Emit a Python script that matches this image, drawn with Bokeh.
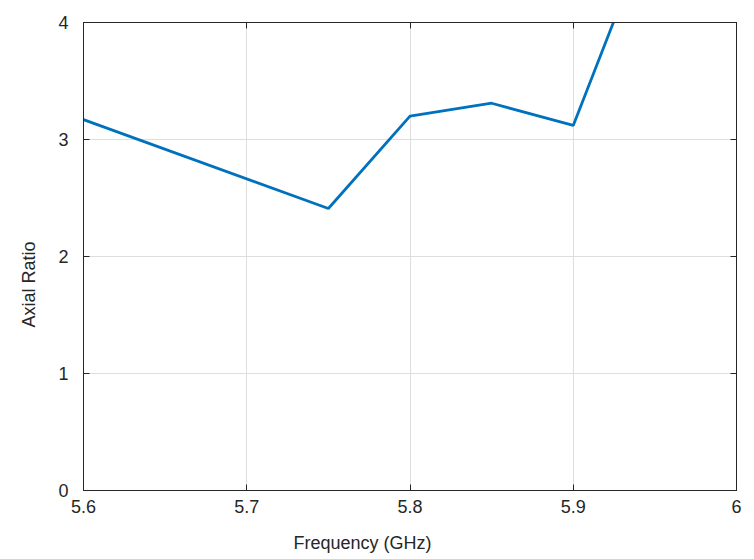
from bokeh.plotting import figure
from bokeh.models import FixedTicker, LinearAxis, Range1d, Title
from bokeh.embed import file_html
from bokeh.resources import INLINE

# Data
freq_ghz = [5.6, 5.75, 5.8, 5.85, 5.9, 5.95]
axial_ratio = [3.17, 2.41, 3.20, 3.31, 3.12, 4.91]
x_ticks = [5.6, 5.7, 5.8, 5.9, 6.0]
x_tick_labels = ["5.6", "5.7", "5.8", "5.9", "6"]
y_ticks = [0, 1, 2, 3, 4]
x_label = "Frequency (GHz)"
y_label = "Axial Ratio"

FONT = "Liberation Sans"
TXT = "#262626"

p = figure(frame_width=653, frame_height=468,
           x_range=Range1d(5.6, 6.0), y_range=Range1d(0, 4),
           output_backend="svg", toolbar_location=None,
           min_border_left=83, min_border_top=22, min_border_right=16, min_border_bottom=67,
           background_fill_color="white", border_fill_color="white")
p.outline_line_color = TXT
p.outline_line_width = 1

p.line(freq_ghz, axial_ratio, line_color="#0072BD", line_width=2.8)

for ax in p.xaxis:
    ax.ticker = FixedTicker(ticks=x_ticks)
    ax.major_label_overrides = {v: s for v, s in zip(x_ticks, x_tick_labels)}
for ax in p.yaxis:
    ax.ticker = FixedTicker(ticks=y_ticks)

def style(ax):
    ax.axis_line_color = TXT
    ax.major_tick_line_color = TXT
    ax.major_tick_in = 6
    ax.major_tick_out = 0
    ax.minor_tick_line_color = None
    ax.major_label_text_font = FONT
    ax.major_label_text_font_size = "18px"
    ax.major_label_text_color = TXT

for ax in p.xaxis + p.yaxis:
    style(ax)
p.xaxis.major_label_standoff = 9
p.yaxis.major_label_standoff = 15

top = LinearAxis(ticker=FixedTicker(ticks=x_ticks))
right = LinearAxis(ticker=FixedTicker(ticks=y_ticks))
for ax in (top, right):
    style(ax)
    ax.major_label_text_color = None
    ax.major_label_standoff = 0
p.add_layout(top, "above")
p.add_layout(right, "right")

p.xgrid.ticker = FixedTicker(ticks=x_ticks)
p.ygrid.ticker = FixedTicker(ticks=y_ticks)
p.grid.grid_line_color = "#dedede"
p.grid.grid_line_width = 1

p.add_layout(Title(text=x_label, align="left", offset=210, standoff=31,
                   text_font=FONT, text_font_size="18px", text_font_style="normal",
                   text_color=TXT), "below")
p.add_layout(Title(text=y_label, align="left", offset=163, standoff=33,
                   text_font=FONT, text_font_size="18px", text_font_style="normal",
                   text_color=TXT), "left")

open("out.html", "w").write(file_html(p, INLINE))
